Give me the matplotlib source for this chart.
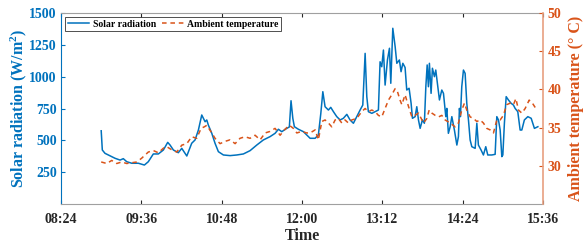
import matplotlib
matplotlib.use("Agg")
import matplotlib.pyplot as plt

# Solar radiation (minutes since midnight, W/m2)
solar_t = [540.0, 541.0, 543.4, 552.4, 556.9, 559.8, 562.9, 567.4, 573.3, 578.7, 582.2, 586.7,
           591.2, 595.7, 599.6, 601.7, 604.7, 609.1, 612.2, 616.7, 621.1, 624.1, 627.1, 630.1,
           633.1, 634.6, 636.0, 639.1, 642.0, 645.0, 649.5, 655.5, 661.5, 667.4, 673.4, 679.4,
           685.3, 691.3, 695.8, 698.8, 701.8, 706.3, 708.6, 710.1, 711.7, 713.1, 716.7, 721.2,
           725.7, 727.2, 731.7, 734.6, 736.8, 738.6, 740.6, 743.6, 745.7, 748.1, 751.1, 754.1,
           757.0, 760.1, 763.0, 766.0, 769.0, 772.0, 774.4, 776.5, 778.0, 779.4, 782.5, 785.4,
           788.4, 789.9, 791.4, 792.9, 794.4, 796.5, 798.3, 799.5, 801.3, 803.4, 804.9, 807.2,
           808.7, 810.3, 812.3, 813.8, 815.9, 817.7, 818.9, 821.3, 822.8, 824.3, 825.8, 827.8,
           829.6, 830.9, 832.1, 833.2, 834.1, 835.6, 836.8, 838.6, 839.8, 841.6, 843.1, 845.2,
           846.7, 848.8, 849.7, 851.1, 852.7, 854.2, 856.5, 858.7, 860.1, 861.0, 861.9, 863.1,
           864.6, 866.1, 867.6, 869.1, 870.6, 872.1, 875.1, 876.6, 878.0, 880.4, 882.5, 884.6,
           886.4, 890.0, 893.0, 894.5, 896.0, 897.5, 899.0, 899.9, 901.3, 902.9, 904.9, 907.3,
           909.4, 910.9, 913.3, 915.4, 916.9, 919.2, 922.3, 925.3, 928.2, 931.3]
solar_v = [575, 424, 398, 359, 345, 356, 332, 320, 320, 306, 332, 393,
           393, 424, 484, 463, 424, 403, 437, 377, 477, 503, 581, 699,
           646, 660, 620, 555, 477, 411, 385, 380, 385, 393, 419, 463,
           503, 529, 555, 587, 568, 594, 605, 811, 673, 607, 587, 568,
           529, 516, 516, 542, 712, 882, 764, 738, 759, 725, 686, 660,
           673, 704, 660, 634, 686, 738, 777, 1183, 843, 725, 712, 725,
           738, 1117, 1078, 1209, 934, 1131, 1223, 948, 1380, 1236, 1105, 1131,
           1039, 1105, 1072, 895, 909, 791, 673, 686, 764, 660, 594, 660,
           634, 921, 1092, 921, 1105, 869, 1066, 1000, 1052, 921, 817, 895,
           869, 686, 751, 555, 607, 686, 581, 463, 529, 751, 686, 921,
           1052, 1026, 791, 660, 503, 450, 437, 634, 463, 424, 385, 450,
           385, 385, 390, 686, 660, 581, 372, 385, 634, 843, 817, 791,
           777, 751, 725, 581, 581, 660, 686, 673, 594, 607]

# Ambient temperature (minutes since midnight, deg C)
temp_t = [540.0, 545.0, 549.4, 553.9, 558.4, 562.9, 567.4, 571.9, 576.3, 582.2, 586.7, 591.2,
          595.7, 598.7, 603.2, 607.7, 612.2, 616.7, 621.1, 625.6, 629.5, 632.4, 634.6, 639.1,
          642.0, 646.5, 651.0, 655.5, 660.0, 664.4, 668.9, 673.4, 677.9, 682.4, 686.9, 691.3,
          695.8, 700.3, 704.8, 708.6, 712.2, 715.3, 719.7, 724.2, 727.2, 731.7, 734.6, 737.7,
          740.6, 743.6, 746.6, 749.6, 752.5, 755.6, 758.5, 761.5, 764.5, 769.0, 773.5, 776.5,
          779.4, 782.5, 785.4, 788.4, 791.4, 794.4, 797.4, 800.4, 803.4, 805.5, 807.8, 809.4,
          812.3, 815.3, 818.4, 821.3, 824.3, 828.8, 831.8, 833.9, 836.3, 839.3, 842.3, 845.2,
          848.2, 852.7, 857.1, 860.1, 863.1, 865.5, 867.6, 870.6, 873.6, 876.6, 879.5, 882.5,
          885.5, 888.5, 891.5, 894.5, 897.5, 900.4, 903.4, 906.4, 909.4, 911.6, 913.9, 916.9,
          919.9, 923.5, 926.4, 929.5]
temp_v = [30.5, 30.3, 30.7, 30.3, 30.5, 30.3, 30.4, 30.5, 31.0, 31.8, 32.0, 31.7,
          32.3, 32.5, 32.1, 31.8, 32.7, 32.9, 33.8, 33.6, 34.9, 35.1, 35.3, 34.3,
          33.6, 32.9, 33.2, 33.4, 32.9, 33.6, 33.8, 33.6, 34.0, 33.4, 34.3, 34.5,
          34.9, 34.0, 34.8, 35.3, 34.9, 34.3, 34.5, 34.3, 34.3, 34.7, 33.4, 35.8,
          36.0, 35.6, 35.1, 36.0, 36.2, 35.6, 36.0, 35.6, 36.0, 36.2, 37.1, 37.5,
          37.1, 37.3, 37.1, 36.6, 36.4, 37.5, 38.6, 39.3, 40.1, 39.7, 38.6, 38.0,
          39.3, 37.8, 36.4, 36.6, 36.9, 35.6, 36.2, 37.3, 36.9, 36.6, 36.4, 36.6,
          36.0, 35.6, 35.1, 35.6, 37.3, 38.2, 37.3, 36.4, 36.2, 35.8, 36.0, 35.6,
          34.9, 34.7, 34.3, 36.0, 36.0, 36.6, 38.0, 38.2, 38.0, 38.8, 37.3, 36.9,
          37.5, 38.6, 38.2, 37.5]

x_ticks = [504, 576, 648, 720, 792, 864, 936]
x_labels = ["08:24", "09:36", "10:48", "12:00", "13:12", "14:24", "15:36"]
left_ticks = [250, 500, 750, 1000, 1250, 1500]
right_ticks = [30, 35, 40, 45, 50]

BLUE = "#0072BD"
ORANGE = "#D95319"
GRAY = "#262626"

plt.rcParams["font.family"] = ["Liberation Serif", "DejaVu Serif"]
plt.rcParams["font.weight"] = "bold"
plt.rcParams["mathtext.fontset"] = "custom"
plt.rcParams["mathtext.rm"] = "Liberation Serif:bold"
plt.rcParams["mathtext.it"] = "Liberation Serif:bold"
plt.rcParams["mathtext.bf"] = "Liberation Serif:bold"

fig = plt.figure(figsize=(5.84, 2.5), dpi=100)
ax = fig.add_axes([0.1045, 0.184, 0.8255, 0.764])
ax2 = ax.twinx()

l1, = ax.plot(solar_t, solar_v, color=BLUE, lw=1.1, label="Solar radiation")
l2, = ax2.plot(temp_t, temp_v, color=ORANGE, lw=1.1, ls=(0, (3, 2.5)), label="Ambient temperature")

ax.set_xlim(504, 936)
ax.set_ylim(0, 1500)
ax2.set_ylim(25, 50)
ax.set_xticks(x_ticks)
ax.set_xticklabels(x_labels)
ax.set_yticks(left_ticks)
ax2.set_yticks(right_ticks)

ax.tick_params(axis="x", direction="in", top=True, length=3, colors=GRAY, labelsize=10, pad=6.5)
ax.tick_params(axis="y", direction="in", length=3, colors=BLUE, labelsize=10, pad=3)
ax2.tick_params(axis="y", direction="in", length=3, colors=ORANGE, labelsize=10, pad=3)
for lab in ax.get_xticklabels() + ax.get_yticklabels() + ax2.get_yticklabels():
    lab.set_fontweight("bold")

for sp in ("top", "bottom"):
    ax.spines[sp].set_color("#A0A0A0")
    ax2.spines[sp].set_visible(False)
ax.spines["left"].set_color(BLUE)
ax.spines["right"].set_visible(False)
ax2.spines["left"].set_visible(False)
ax2.spines["right"].set_color("#E8A080")
ax2.spines["right"].set_linewidth(1.2)

ax.set_xlabel("Time", fontsize=11.5, fontweight="bold", color=GRAY, labelpad=1.5)
ax.set_ylabel("Solar radiation (W/m$^2$)", fontsize=11.5, fontweight="bold", color=BLUE, labelpad=0.5)
ax2.set_ylabel("Ambient temperature (° C)", fontsize=11.5, fontweight="bold", color=ORANGE, labelpad=5)

leg = ax.legend([l1, l2], ["Solar radiation", "Ambient temperature"], loc="upper left",
                ncol=2, fontsize=7, frameon=True, fancybox=False, edgecolor="black",
                handlelength=2.2, columnspacing=0.6, handletextpad=0.4,
                borderpad=0.25, borderaxespad=0.45)
leg.get_frame().set_linewidth(0.6)
for t in leg.get_texts():
    t.set_fontweight("bold")

fig.savefig("out.png", dpi=100)
